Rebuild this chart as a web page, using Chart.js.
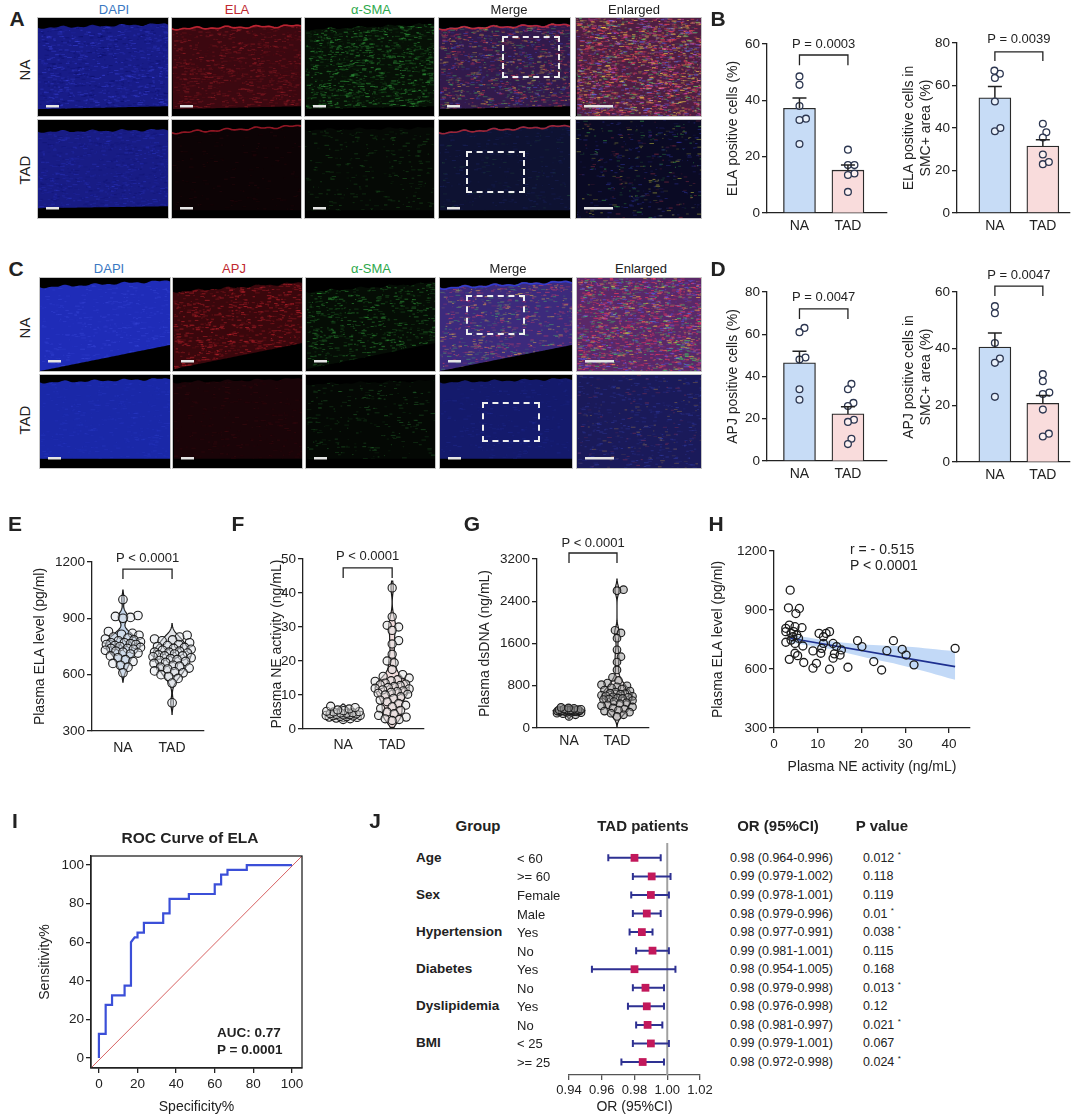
<!DOCTYPE html>
<html>
<head>
<meta charset="utf-8">
<title>ELA / APJ figure</title>
<script src="https://cdn.jsdelivr.net/npm/chart.js@4.4.1/dist/chart.umd.min.js"></script>
<style>
  body { margin: 0; background: #fff; }
  #page { position: relative; width: 1080px; height: 1120px; overflow: hidden; font-family: 'Liberation Sans', Arial, sans-serif; color: #222; }
  #page canvas { position: absolute; }
  .t { position: absolute; white-space: nowrap; line-height: 1; }
  .mid { transform: translate(-50%, -50%); }
  .left { transform: translateY(-50%); }
  .rot { transform: translate(-50%, -50%) rotate(-90deg); }
  .letter { font-weight: bold; font-size: 21px; }
  .micro { border: 1px solid #c4c4c4; box-sizing: border-box; }
  .dash { position: absolute; border: 2px dashed #eee; box-sizing: border-box; }
</style>
</head>
<body>
<div id="page">
  <canvas id="b1" width="180" height="212" style="left:712px;top:28px"></canvas>
  <canvas id="b2" width="180" height="212" style="left:895px;top:28px"></canvas>
  <canvas id="d1" width="180" height="212" style="left:712px;top:276px"></canvas>
  <canvas id="d2" width="180" height="226" style="left:895px;top:262px"></canvas>
  <canvas id="e" width="195" height="230" style="left:20px;top:530px"></canvas>
  <canvas id="f" width="195" height="230" style="left:240px;top:530px"></canvas>
  <canvas id="g" width="205" height="235" style="left:450px;top:525px"></canvas>
  <canvas id="h" width="285" height="252" style="left:695px;top:528px"></canvas>
  <canvas id="roc" width="320" height="275" style="left:0px;top:845px"></canvas>
  <canvas id="forest" width="180" height="290" style="left:540px;top:830px"></canvas>
</div>
<script>
// ---------- data ----------
const groups = ['NA', 'TAD'];

// B  ELA positive cells
const elaCellNA = [48.5, 45.5, 38, 33.5, 33, 24.5];
const elaCellTAD = [22.5, 17, 17, 14, 13.5, 7.5];
const elaCellMean = [37.2, 15.2];
const elaCellSem = [3.6, 1.8];
const elaSmcNA = [65.5, 67, 63.5, 52.5, 38.5, 40];
const elaSmcTAD = [42, 38, 35.5, 27.5, 23, 24];
const elaSmcMean = [54.2, 31.5];
const elaSmcSem = [5.3, 3.0];

// D  APJ positive cells
const apjCellNA = [63, 61, 49, 48, 34, 29];
const apjCellTAD = [36.5, 34, 27.5, 26, 19.5, 18.5, 10.5, 8];
const apjCellMean = [46.5, 22.3];
const apjCellSem = [5.5, 3.4];
const apjSmcNA = [55, 52.5, 42, 36.5, 35, 23];
const apjSmcTAD = [31, 28.5, 24.5, 24, 18.5, 10, 9];
const apjSmcMean = [40.6, 20.7];
const apjSmcSem = [4.9, 2.8];

// E  plasma ELA (pg/ml)
const plasmaElaNA = [1000, 915, 910, 905, 900, 830, 820, 815, 810, 800, 795, 790, 785, 780, 775, 770, 770, 765, 760, 760,
  755, 750, 745, 740, 740, 735, 730, 725, 720, 715, 710, 700, 690, 680, 670, 660, 650, 640, 610];
const plasmaElaTAD = [810, 800, 790, 785, 780, 770, 760, 755, 750, 745, 740, 735, 730, 725, 720, 720, 715, 710, 705, 700,
  700, 695, 690, 685, 680, 675, 670, 665, 660, 650, 645, 640, 635, 630, 620, 615, 610, 600, 590, 580, 555, 450];

// F  plasma NE activity (ng/mL)
const neNA = [2.8, 3.0, 3.2, 3.4, 3.5, 3.6, 3.7, 3.8, 3.9, 4.0, 4.0, 4.1, 4.2, 4.3, 4.4, 4.5, 4.6, 4.7, 4.8, 5.0,
  5.1, 5.2, 5.4, 5.6, 5.9, 6.3, 6.7];
const neTAD = [41.5, 33, 30.5, 30, 29, 26, 25, 22, 20, 19.5, 17.5, 16, 15.5, 15, 14.5, 14.2, 14, 13.5, 13.2, 13,
  12.8, 12.5, 12.2, 12, 11.8, 11.5, 11.2, 11, 10.8, 10.5, 10.2, 10, 9.5, 9, 8.5, 8, 7.5, 7, 6.5, 6,
  5.5, 5, 4.5, 4, 3.5, 3, 2.8, 2.5];

// G  plasma dsDNA (ng/mL)
const dsdnaNA = [220, 250, 270, 280, 290, 300, 300, 305, 310, 310, 315, 320, 320, 325, 330, 330, 335, 340, 340, 345,
  350, 355, 360, 370, 380, 390];
const dsdnaTAD = [2620, 2600, 1850, 1800, 1700, 1480, 1350, 1250, 1100, 960, 900, 850, 820, 800, 780, 760, 740, 720, 700, 680,
  660, 650, 640, 620, 610, 600, 590, 580, 570, 560, 550, 540, 520, 500, 480, 460, 440, 420, 400, 380,
  360, 340, 320, 300, 280, 250, 220];

// H  correlation NE activity vs ELA
const corrNE = [3.7, 3.3, 5.8, 5.0, 3.5, 6.4, 4.8, 2.7, 2.7, 3.9, 4.5, 5.2, 4.3, 2.7, 3.9, 4.8, 5.6, 6.6, 4.8, 3.5,
  5.4, 6.8, 10.3, 11.9, 12.7, 11.3, 11.3, 8.9, 9.7, 8.9, 10.7, 10.9, 12.7, 13.5, 14.3, 13.8, 13.5, 15.1, 15.4, 16.9,
  19.1, 20.1, 22.8, 24.6, 25.8, 27.3, 29.3, 30.2, 32.0, 41.4];
const corrELA = [1001, 911, 908, 882, 823, 810, 815, 807, 790, 781, 790, 773, 764, 736, 747, 730, 756, 717, 680, 649,
  668, 633, 781, 781, 790, 764, 730, 692, 629, 604, 680, 705, 599, 730, 714, 677, 655, 671, 697, 609,
  744, 714, 638, 595, 693, 744, 700, 671, 621, 705];
const fitNE = [3.7, 41.4];
const fitELA = [756, 612];
const bandNE = [3.7, 12, 20, 30, 41.4];
const bandHi = [775, 745, 726, 714, 690];
const bandLo = [735, 705, 663, 614, 545];

// I  ROC curve of ELA
const rocSpec = [0, 0, 3.5, 3.5, 6.8, 6.8, 13.3, 13.3, 16.6, 16.6, 18.5, 20, 20, 23.3, 23.3, 33.3, 33.3, 36.6, 36.6,
  46.6, 46.6, 60, 60, 63.3, 63.3, 66.6, 66.6, 76.6, 76.6, 100];
const rocSens = [0, 12.5, 12.5, 27.5, 27.5, 32.5, 32.5, 37.5, 37.5, 60, 62.5, 62.5, 65, 65, 70, 70, 75, 75, 82.5,
  82.5, 85, 85, 90, 90, 95, 95, 97.5, 97.5, 100, 100];

// J  subgroup odds ratios
const groupNames = ['Age', '', 'Sex', '', 'Hypertension', '', 'Diabetes', '', 'Dyslipidemia', '', 'BMI', ''];
const subNames = ['< 60', '>= 60', 'Female', 'Male', 'Yes', 'No', 'Yes', 'No', 'Yes', 'No', '< 25', '>= 25'];
const orEst = [0.980, 0.9905, 0.990, 0.9875, 0.9845, 0.991, 0.980, 0.9867, 0.9875, 0.988, 0.990, 0.985];
const ciLow = [0.964, 0.979, 0.978, 0.979, 0.977, 0.981, 0.954, 0.979, 0.976, 0.981, 0.979, 0.972];
const ciHigh = [0.996, 1.002, 1.001, 0.996, 0.991, 1.001, 1.005, 0.998, 0.998, 0.997, 1.001, 0.998];
const orText = ['0.98 (0.964-0.996)', '0.99 (0.979-1.002)', '0.99 (0.978-1.001)', '0.98 (0.979-0.996)',
  '0.98 (0.977-0.991)', '0.99 (0.981-1.001)', '0.98 (0.954-1.005)', '0.98 (0.979-0.998)',
  '0.98 (0.976-0.998)', '0.98 (0.981-0.997)', '0.99 (0.979-1.001)', '0.98 (0.972-0.998)'];
const pText = ['0.012', '0.118', '0.119', '0.01', '0.038', '0.115', '0.168', '0.013', '0.12', '0.021', '0.067', '0.024'];
const pStar = [1, 0, 0, 1, 1, 0, 0, 1, 0, 1, 0, 1];

// ---------- setup ----------
const FONT = "'Liberation Sans', Arial, sans-serif";
const INK = '#222';
Chart.defaults.font.family = FONT;
Chart.defaults.color = INK;
Chart.defaults.animation = false;
Chart.defaults.plugins.legend.display = false;
Chart.defaults.plugins.tooltip.enabled = false;

const page = document.getElementById('page');

function txt(s, x, y, cls, style, html) {
  const d = document.createElement('div');
  d.className = 't ' + cls;
  d.style.left = x + 'px';
  d.style.top = y + 'px';
  if (style) d.style.cssText += style;
  if (html) d.innerHTML = s; else d.textContent = s;
  page.appendChild(d);
}

function ticksAt(vals) {
  return s => { s.ticks = vals.map(v => ({ value: v })); };
}

function yAxis(o) {
  return {
    type: 'linear', min: o.min, max: o.max, reverse: !!o.reverse, display: o.display !== false, offset: false,
    afterBuildTicks: ticksAt(o.ticks || []),
    afterFit: s => { s.width = o.width; },
    border: { display: true, color: INK, width: 1.3 },
    grid: { display: true, offset: false, drawOnChartArea: false, drawTicks: true, tickLength: 5, color: INK, lineWidth: 1.3 },
    ticks: { font: { size: 13.5 }, color: INK, padding: 2, autoSkip: false, callback: v => String(v) },
    title: { display: !!o.title, text: o.title, font: { size: 14 }, color: INK, padding: { top: 4, bottom: 4 } }
  };
}

function xAxis(o) {
  return {
    type: 'linear', min: o.min, max: o.max, offset: false,
    afterBuildTicks: ticksAt(o.ticks),
    afterFit: s => { s.height = o.height; },
    border: { display: true, color: o.color || INK, width: 1.3 },
    grid: { display: true, offset: false, drawOnChartArea: false, drawTicks: !!o.marks, tickLength: o.marks ? 5 : 0, color: o.color || INK, lineWidth: 1.3 },
    ticks: {
      font: { size: o.size || 13.5 }, color: INK, padding: o.pad ?? 4, autoSkip: false, maxRotation: 0,
      callback: o.labels ? (v => o.labels[v]) : (o.fmt || (v => String(v)))
    },
    title: { display: !!o.title, text: o.title, font: { size: 14 }, color: INK, padding: { top: 2, bottom: 4 } }
  };
}

// spread points of one dataset sideways so they do not sit on each other
function swarm(chart, di, center, gap, maxHalf) {
  const xs = chart.scales.x, ys = chart.scales.y;
  const pts = chart.data.datasets[di].data;
  const cx = xs.getPixelForValue(center);
  const order = pts.map((p, i) => i).sort((a, b) => pts[a].y - pts[b].y);
  const placed = [];
  order.forEach(i => {
    const py = ys.getPixelForValue(pts[i].y);
    let best = cx, bestD = -1;
    for (let k = 0; ; k++) {
      const off = Math.ceil(k / 2) * 0.5 * (k % 2 ? 1 : -1);
      if (Math.abs(off) > maxHalf) break;
      const px = cx + off;
      let dmin = Infinity;
      placed.forEach(q => { dmin = Math.min(dmin, Math.hypot(q[0] - px, q[1] - py)); });
      if (dmin >= gap) { best = px; bestD = dmin; break; }
      if (dmin > bestD) { bestD = dmin; best = px; }
    }
    placed.push([best, py]);
    pts[i].x = xs.getValueForPixel(best);
  });
  chart.update('none');
}

function sigPlugin(s) {
  return {
    id: 'sig',
    afterDatasetsDraw(chart) {
      const { ctx } = chart, xs = chart.scales.x, ys = chart.scales.y;
      const x0 = xs.getPixelForValue(0), x1 = xs.getPixelForValue(1);
      const yt = ys.getPixelForValue(s.top), yl = ys.getPixelForValue(s.leg);
      ctx.save();
      ctx.strokeStyle = INK; ctx.lineWidth = 1.3;
      ctx.beginPath(); ctx.moveTo(x0, yl); ctx.lineTo(x0, yt); ctx.lineTo(x1, yt); ctx.lineTo(x1, yl); ctx.stroke();
      ctx.fillStyle = INK; ctx.font = '13px ' + FONT; ctx.textAlign = 'center'; ctx.textBaseline = 'middle';
      ctx.fillText(s.text, (x0 + x1) / 2, ys.getPixelForValue(s.textY));
      ctx.restore();
    }
  };
}

function errPlugin(mean, sem) {
  return {
    id: 'err',
    afterDatasetsDraw(chart) {
      const { ctx } = chart, xs = chart.scales.x, ys = chart.scales.y;
      ctx.save(); ctx.strokeStyle = INK; ctx.lineWidth = 1.5;
      mean.forEach((m, i) => {
        const x = xs.getPixelForValue(i), y0 = ys.getPixelForValue(m), y1 = ys.getPixelForValue(m + sem[i]);
        ctx.beginPath(); ctx.moveTo(x, y0); ctx.lineTo(x, y1); ctx.moveTo(x - 7, y1); ctx.lineTo(x + 7, y1); ctx.stroke();
      });
      ctx.restore();
    }
  };
}

function violinPlugin(vs) {
  return {
    id: 'violin',
    beforeDatasetsDraw(chart) {
      const { ctx } = chart, xs = chart.scales.x, ys = chart.scales.y;
      vs.forEach(g => {
        const lo = Math.min(...g.values) - g.ext, hi = Math.max(...g.values) + g.ext;
        const n = 160, dens = [];
        let dmax = 0;
        for (let i = 0; i <= n; i++) {
          const y = lo + (hi - lo) * i / n;
          let d = 0;
          g.values.forEach(v => { const z = (y - v) / g.bw; d += Math.exp(-0.5 * z * z); });
          dens.push([y, d]); dmax = Math.max(dmax, d);
        }
        const cx = xs.getPixelForValue(g.center);
        ctx.save(); ctx.beginPath();
        dens.forEach(([y, d], i) => {
          const px = cx + g.half * d / dmax, py = ys.getPixelForValue(y);
          if (i) ctx.lineTo(px, py); else ctx.moveTo(px, py);
        });
        for (let i = dens.length - 1; i >= 0; i--) {
          ctx.lineTo(cx - g.half * dens[i][1] / dmax, ys.getPixelForValue(dens[i][0]));
        }
        ctx.closePath();
        ctx.fillStyle = g.fill; ctx.fill();
        ctx.strokeStyle = '#1a1a1a'; ctx.lineWidth = 1.2; ctx.stroke();
        ctx.restore();
      });
    }
  };
}

// ---------- bar charts (B, D) ----------
function barChart(id, c) {
  const pt = { type: 'scatter', pointRadius: 3.4, pointBackgroundColor: 'rgba(255,255,255,0.6)', pointBorderColor: '#2c3650', pointBorderWidth: 1.3, order: 1, clip: false };
  const chart = new Chart(document.getElementById(id), {
    type: 'bar',
    data: {
      datasets: [
        { type: 'bar', data: c.mean.map((m, i) => ({ x: i, y: m })), backgroundColor: ['#c7dcf6', '#f9dcdc'], borderColor: '#2a2a2a', borderWidth: 1.3, barThickness: 32, order: 3 },
        { ...pt, data: c.na.map(v => ({ x: 0, y: v })) },
        { ...pt, data: c.tad.map(v => ({ x: 1, y: v })) }
      ]
    },
    options: {
      responsive: false,
      layout: { padding: c.pad },
      scales: {
        x: xAxis({ min: c.xmin, max: c.xmax, ticks: [0, 1], labels: groups, height: c.xh, pad: 5, size: 14 }),
        y: yAxis({ min: 0, max: c.ymax, ticks: c.yticks, width: c.yw, title: c.title })
      }
    },
    plugins: [errPlugin(c.mean, c.sem), sigPlugin(c.sig)]
  });
  swarm(chart, 1, 0, 6.2, 13);
  swarm(chart, 2, 1, 6.2, 13);
  return chart;
}

barChart('b1', {
  mean: elaCellMean, sem: elaCellSem, na: elaCellNA, tad: elaCellTAD,
  pad: { left: 8.6, top: 16, right: 5, bottom: 0 }, yw: 46.4, xh: 27, xmin: -0.67, xmax: 1.8,
  ymax: 60, yticks: [0, 20, 40, 60], title: 'ELA positive cells (%)',
  sig: { text: 'P = 0.0003', textY: 60, top: 56.1, leg: 52.5 }
});
barChart('b2', {
  mean: elaSmcMean, sem: elaSmcSem, na: elaSmcNA, tad: elaSmcTAD,
  pad: { left: 2.2, top: 15, right: 5, bottom: 0 }, yw: 59.8, xh: 27, xmin: -0.79, xmax: 1.56,
  ymax: 80, yticks: [0, 20, 40, 60, 80], title: ['ELA positive cells in', 'SMC+ area (%)'],
  sig: { text: 'P = 0.0039', textY: 81.9, top: 75.8, leg: 71.5 }
});
barChart('d1', {
  mean: apjCellMean, sem: apjCellSem, na: apjCellNA, tad: apjCellTAD,
  pad: { left: 8.6, top: 16, right: 5, bottom: 0 }, yw: 46.4, xh: 27, xmin: -0.67, xmax: 1.8,
  ymax: 80, yticks: [0, 20, 40, 60, 80], title: 'APJ positive cells (%)',
  sig: { text: 'P = 0.0047', textY: 77.6, top: 72.0, leg: 67.2 }
});
barChart('d2', {
  mean: apjSmcMean, sem: apjSmcSem, na: apjSmcNA, tad: apjSmcTAD,
  pad: { left: 2.2, top: 30, right: 5, bottom: 0 }, yw: 59.8, xh: 26, xmin: -0.79, xmax: 1.56,
  ymax: 60, yticks: [0, 20, 40, 60], title: ['APJ positive cells in', 'SMC+ area (%)'],
  sig: { text: 'P = 0.0047', textY: 66.0, top: 62.1, leg: 58.6 }
});

// ---------- violin charts (E, F, G) ----------
function violinChart(id, c) {
  const pt = { pointRadius: c.r, pointBackgroundColor: c.pfill, pointBorderColor: '#1b1b1b', pointBorderWidth: 1.1, clip: false };
  const chart = new Chart(document.getElementById(id), {
    type: 'scatter',
    data: {
      datasets: [
        { ...pt, data: c.na.map(v => ({ x: 0, y: v })) },
        { ...pt, data: c.tad.map(v => ({ x: 1, y: v })) }
      ]
    },
    options: {
      responsive: false,
      layout: { padding: c.pad },
      scales: {
        x: xAxis({ min: c.xmin, max: c.xmax, ticks: [0, 1], labels: groups, height: c.xh, pad: c.lpad, size: 14 }),
        y: yAxis({ min: c.ymin, max: c.ymax, ticks: c.yticks, width: c.yw, title: c.title })
      }
    },
    plugins: [violinPlugin([
      { center: 0, values: c.na, bw: c.bw[0], ext: c.ext[0], half: c.half[0], fill: c.fill[0] },
      { center: 1, values: c.tad, bw: c.bw[1], ext: c.ext[1], half: c.half[1], fill: c.fill[1] }
    ]), sigPlugin(c.sig)]
  });
  swarm(chart, 0, 0, c.r * 1.7, c.spread ? c.spread[0] : c.half[0]);
  swarm(chart, 1, 1, c.r * 1.7, c.spread ? c.spread[1] : c.half[1]);
  return chart;
}

violinChart('e', {
  na: plasmaElaNA, tad: plasmaElaTAD, r: 4.3, pfill: 'rgba(225,228,235,0.45)',
  pad: { left: 7.6, top: 32, right: 11, bottom: 0 }, yw: 64.4, xh: 29, lpad: 9, xmin: -0.63, xmax: 1.65,
  ymin: 300, ymax: 1200, yticks: [300, 600, 900, 1200], title: 'Plasma ELA level (pg/ml)',
  bw: [24, 26], ext: [50, 62], half: [17.5, 19], fill: ['#c4d5ea', '#e3e5e9'],
  sig: { text: 'P < 0.0001', textY: 1221, top: 1162, leg: 1110 }
});
violinChart('f', {
  na: neNA, tad: neTAD, r: 4.1, pfill: 'rgba(225,225,225,0.5)',
  pad: { left: 24.6, top: 29, right: 11, bottom: 0 }, yw: 38.4, xh: 31, lpad: 8, xmin: -0.82, xmax: 1.65,
  ymin: 0, ymax: 50, yticks: [0, 10, 20, 30, 40, 50], title: 'Plasma NE activity (ng/mL)',
  bw: [0.45, 1.7], ext: [0.6, 2.0], half: [17, 17], fill: ['#e8eaee', '#f2dddd'],
  sig: { text: 'P < 0.0001', textY: 50.9, top: 47.4, leg: 44.4 }
});
violinChart('g', {
  na: dsdnaNA, tad: dsdnaTAD, r: 3.8, pfill: 'rgba(150,150,150,0.5)', spread: [12, 15.5],
  pad: { left: 22.6, top: 34, right: 6, bottom: 0 }, yw: 64.4, xh: 32, lpad: 5, xmin: -0.667, xmax: 1.667,
  ymin: 0, ymax: 3200, yticks: [0, 800, 1600, 2400, 3200], title: 'Plasma dsDNA (ng/mL)',
  bw: [30, 85], ext: [50, 200], half: [16, 15.5], fill: ['#eeeeee', '#f6eeee'],
  sig: { text: 'P < 0.0001', textY: 3503, top: 3314, leg: 3125 }
});

// ---------- H: correlation ----------
new Chart(document.getElementById('h'), {
  type: 'scatter',
  data: {
    datasets: [
      { type: 'line', data: bandNE.map((x, i) => ({ x, y: bandHi[i] })), borderWidth: 0, pointRadius: 0, fill: '+1', backgroundColor: 'rgba(110,165,235,0.42)', tension: 0.4, order: 3 },
      { type: 'line', data: bandNE.map((x, i) => ({ x, y: bandLo[i] })), borderWidth: 0, pointRadius: 0, fill: false, tension: 0.4, order: 3 },
      { type: 'line', data: fitNE.map((x, i) => ({ x, y: fitELA[i] })), borderColor: '#1d2f8f', borderWidth: 1.6, pointRadius: 0, order: 2 },
      { data: corrNE.map((x, i) => ({ x, y: corrELA[i] })), pointRadius: 4, pointBorderColor: '#1a1a1a', pointBorderWidth: 1.3, pointBackgroundColor: 'rgba(255,255,255,0)', order: 1, clip: false }
    ]
  },
  options: {
    responsive: false,
    layout: { padding: { left: 10.6, top: 23, right: 10, bottom: 0 } },
    scales: {
      x: xAxis({ min: 0, max: 44.8, ticks: [0, 10, 20, 30, 40], height: 52, marks: true, pad: 3, title: 'Plasma NE activity (ng/mL)' }),
      y: yAxis({ min: 300, max: 1200, ticks: [300, 600, 900, 1200], width: 68.4, title: 'Plasma ELA level (pg/ml)' })
    }
  }
});

// ---------- I: ROC ----------
new Chart(document.getElementById('roc'), {
  type: 'scatter',
  data: {
    datasets: [
      { data: rocSpec.map((x, i) => ({ x, y: rocSens[i] })), showLine: true, borderColor: '#3b4fd8', borderWidth: 2.2, pointRadius: 0, order: 1 },
      { data: [{ x: -4.1, y: -5.2 }, { x: 105.2, y: 104.7 }], showLine: true, borderColor: '#d25050', borderWidth: 0.9, pointRadius: 0, order: 2 }
    ]
  },
  options: {
    responsive: false,
    layout: { padding: { left: 32.6, top: 11, right: 18, bottom: 0 } },
    scales: {
      x: xAxis({ min: -4.1, max: 105.2, ticks: [0, 20, 40, 60, 80, 100], height: 52, marks: true, pad: 3, title: 'Specificity%' }),
      y: yAxis({ min: -5.2, max: 104.7, ticks: [0, 20, 40, 60, 80, 100], width: 58.4, title: 'Sensitivity%' })
    }
  },
  plugins: [{
    id: 'box',
    afterDraw(chart) {
      const a = chart.chartArea, ctx = chart.ctx;
      ctx.save(); ctx.strokeStyle = INK; ctx.lineWidth = 1.3;
      ctx.strokeRect(a.left, a.top, a.right - a.left, a.bottom - a.top);
      ctx.restore();
    }
  }]
});

// ---------- J: forest plot ----------
const forest = new Chart(document.getElementById('forest'), {
  type: 'scatter',
  data: {
    datasets: [
      { data: orEst.map((x, i) => ({ x, y: i })), pointStyle: 'rect', pointRadius: 5.5, pointBackgroundColor: '#c2185b', pointBorderColor: '#c2185b', pointBorderWidth: 0, clip: false }
    ]
  },
  options: {
    responsive: false,
    layout: { padding: { left: 29, top: 13, right: 20, bottom: 0 } },
    scales: {
      x: xAxis({ min: 0.94, max: 1.02, ticks: [0.94, 0.96, 0.98, 1.00, 1.02], height: 45, marks: true, pad: 3, size: 13, color: '#555',
        fmt: v => v.toFixed(2), title: 'OR (95%CI)' }),
      y: yAxis({ min: -0.8, max: 11.7, reverse: true, display: false, width: 0 })
    }
  },
  plugins: [{
    id: 'whiskers',
    beforeDatasetsDraw(chart) {
      const { ctx } = chart, xs = chart.scales.x, ys = chart.scales.y, a = chart.chartArea;
      ctx.save();
      ctx.strokeStyle = '#a0a0a0'; ctx.lineWidth = 2;
      const x1 = xs.getPixelForValue(1);
      ctx.beginPath(); ctx.moveTo(x1, a.top); ctx.lineTo(x1, a.bottom); ctx.stroke();
      ctx.strokeStyle = '#2e3192'; ctx.lineWidth = 2;
      ciLow.forEach((lo, i) => {
        const y = ys.getPixelForValue(i), xa = xs.getPixelForValue(lo), xb = xs.getPixelForValue(ciHigh[i]);
        ctx.beginPath();
        ctx.moveTo(xa, y); ctx.lineTo(xb, y);
        ctx.moveTo(xa, y - 3.5); ctx.lineTo(xa, y + 3.5);
        ctx.moveTo(xb, y - 3.5); ctx.lineTo(xb, y + 3.5);
        ctx.stroke();
      });
      ctx.restore();
    }
  }]
});

const fy = forest.scales.y;
const rowY = i => 830 + fy.getPixelForValue(i);
groupNames.forEach((g, i) => { if (g) txt(g, 416, rowY(i), 'left', 'font-weight:bold;font-size:13.5px;'); });
subNames.forEach((s, i) => txt(s, 517, rowY(i), 'left', 'font-size:13px;'));
orText.forEach((s, i) => txt(s, 730, rowY(i), 'left', 'font-size:12.5px;'));
pText.forEach((s, i) => txt(s + (pStar[i] ? ' <sup style="font-size:8px">*</sup>' : ''), 863, rowY(i), 'left', 'font-size:12.5px;', true));
txt('Group', 478, 825, 'mid', 'font-weight:bold;font-size:15px;');
txt('TAD patients', 643, 825, 'mid', 'font-weight:bold;font-size:15px;');
txt('OR (95%CI)', 778, 825, 'mid', 'font-weight:bold;font-size:15px;');
txt('P value', 882, 825, 'mid', 'font-weight:bold;font-size:15px;');

// ---------- other text ----------
txt('ROC Curve of ELA', 190, 838, 'mid', 'font-weight:bold;font-size:15.5px;');
txt('AUC: 0.77', 217, 1033, 'left', 'font-weight:bold;font-size:13.5px;');
txt('P = 0.0001', 217, 1050, 'left', 'font-weight:bold;font-size:13.5px;');
txt('r = - 0.515', 850, 549, 'left', 'font-size:14px;');
txt('P < 0.0001', 850, 565, 'left', 'font-size:14px;');

[['A', 17, 18], ['B', 718, 18], ['C', 16, 268], ['D', 718, 268], ['E', 15, 523], ['F', 238, 523],
 ['G', 472, 523], ['H', 716, 523], ['I', 15, 820], ['J', 375, 820]].forEach(([s, x, y]) => txt(s, x, y, 'mid letter'));

// ---------- microscopy panels (A, C) ----------
function hash(n) { const s = Math.sin(n * 12.9898 + 78.233) * 43758.5453; return s - Math.floor(s); }

function micro(x, y, w, h, spec, bar) {
  const cv = document.createElement('canvas');
  cv.width = w; cv.height = h; cv.className = 'micro';
  cv.style.left = x + 'px'; cv.style.top = y + 'px';
  page.appendChild(cv);
  const c = cv.getContext('2d');
  c.fillStyle = '#000'; c.fillRect(0, 0, w, h);
  const [t0, t1] = spec.top || [0, 0], [b0, b1] = spec.bot || [1, 1];
  const topY = px => h * (t0 + (t1 - t0) * px / w) + (spec.top ? 0.8 * Math.sin(px / 5) + 0.6 * Math.sin(px / 2.3) : 0);
  const botY = px => h * (b0 + (b1 - b0) * px / w);
  c.beginPath();
  for (let px = 0; px <= w; px += 1) c.lineTo(px, topY(px));
  for (let px = w; px >= 0; px -= 2) c.lineTo(px, botY(px));
  c.closePath();
  c.fillStyle = spec.base; c.fill();
  c.save(); c.clip();
  let k = spec.seed;
  const gain = spec.gain || 0.6;
  spec.streaks.forEach(([col, n, a]) => {
    c.fillStyle = col;
    for (let i = 0; i < n * 1.4; i++) {
      k++;
      c.globalAlpha = Math.min(1, gain * a * (0.25 + 0.75 * hash(k + 0.93)));
      c.fillRect(hash(k) * w, hash(k + 0.37) * h, 1 + hash(k + 0.71) * 4, 1);
    }
  });
  c.restore();
  c.globalAlpha = 1;
  if (spec.edge) {
    c.globalAlpha = 0.8;
    c.strokeStyle = spec.edge; c.lineWidth = 1.6; c.beginPath();
    for (let px = 0; px <= w; px += 1) c.lineTo(px, topY(px) + 1);
    c.stroke();
    c.globalAlpha = 1;
  }
  c.fillStyle = '#e6e6e6';
  c.fillRect(8, h - 11, bar, 2.5);
}

function dash(x, y, w, h) {
  const d = document.createElement('div');
  d.className = 'dash';
  d.style.cssText += `left:${x}px;top:${y}px;width:${w}px;height:${h}px;`;
  page.appendChild(d);
}

const colsA = [[37, 130], [171, 129], [304, 129], [438, 131], [575, 125]];
const colsC = [[39, 130], [172, 129], [305, 129], [439, 132], [576, 124]];

const specA = [
  [
    { base: '#181c88', top: [0.1, 0.06], bot: [0.93, 0.9], seed: 10, gain: 0.75, streaks: [['#4a55ff', 500, 0.5], ['#0a0c60', 300, 0.6]] },
    { base: '#3c0810', top: [0.1, 0.07], bot: [0.93, 0.9], seed: 1100, edge: '#d82a38', streaks: [['#e0303a', 550, 0.6], ['#701018', 200, 0.5]] },
    { base: '#061006', top: [0.12, 0.06], bot: [0.93, 0.9], seed: 2200, gain: 0.75, streaks: [['#40d050', 650, 0.65], ['#1a6020', 300, 0.5]] },
    { base: '#321a4c', top: [0.1, 0.06], bot: [0.93, 0.9], seed: 3300, gain: 0.85, edge: '#d82a38', streaks: [['#ff4050', 320, 0.6], ['#50e060', 200, 0.5], ['#ffd040', 220, 0.6], ['#5060ff', 220, 0.5]] },
    { base: '#4e1e42', seed: 4400, gain: 1.0, streaks: [['#ff4a5a', 550, 0.7], ['#ffd84a', 320, 0.7], ['#50e070', 200, 0.6], ['#6a70ff', 300, 0.6], ['#ff50d0', 200, 0.5]] }
  ],
  [
    { base: '#181c85', top: [0.12, 0.1], bot: [0.9, 0.88], seed: 5500, streaks: [['#3a48f0', 450, 0.5], ['#0a0c60', 250, 0.5]] },
    { base: '#0c0305', top: [0.12, 0.05], bot: [0.92, 0.92], seed: 6600, edge: '#b01c2a', streaks: [['#601018', 120, 0.4]] },
    { base: '#050905', top: [0.1, 0.08], bot: [0.92, 0.92], seed: 7700, streaks: [['#38b040', 220, 0.5]] },
    { base: '#0e1232', top: [0.12, 0.05], bot: [0.92, 0.92], seed: 8800, edge: '#c02a3a', streaks: [['#3040b0', 200, 0.4], ['#40a050', 60, 0.4]] },
    { base: '#0a0a24', seed: 9900, gain: 0.9, streaks: [['#d0d040', 70, 0.6], ['#40c050', 60, 0.6], ['#d04050', 50, 0.5], ['#3a40c0', 150, 0.5]] }
  ]
];
const specC = [
  [
    { base: '#1f2cb8', top: [0.1, 0.03], bot: [1.0, 0.72], seed: 11000, streaks: [['#5a6aff', 350, 0.4]] },
    { base: '#3a070c', top: [0.15, 0.05], bot: [0.98, 0.7], seed: 12000, gain: 0.75, streaks: [['#e02a35', 650, 0.7]] },
    { base: '#050d05', top: [0.15, 0.05], bot: [0.98, 0.7], seed: 13000, gain: 0.75, streaks: [['#3cc048', 550, 0.6]] },
    { base: '#3c2a7c', top: [0.1, 0.03], bot: [1.0, 0.72], seed: 14000, gain: 0.85, edge: '#3040e0', streaks: [['#ff4a60', 300, 0.6], ['#ffd040', 150, 0.6], ['#50e060', 150, 0.5]] },
    { base: '#5a2868', seed: 15000, gain: 1.0, streaks: [['#ff3a60', 550, 0.7], ['#40e060', 250, 0.7], ['#ffd040', 200, 0.6], ['#5a60ff', 300, 0.6]] }
  ],
  [
    { base: '#1a28a8', top: [0.08, 0.04], bot: [0.9, 0.9], seed: 16000, streaks: [['#3a4ae0', 300, 0.4]] },
    { base: '#1a0408', top: [0.08, 0.04], bot: [0.9, 0.9], seed: 17000, streaks: [['#701018', 200, 0.4]] },
    { base: '#040804', top: [0.1, 0.06], bot: [0.9, 0.9], seed: 18000, streaks: [['#40c050', 200, 0.5]] },
    { base: '#141a6c', top: [0.08, 0.04], bot: [0.9, 0.9], seed: 19000, streaks: [['#3040c0', 200, 0.4]] },
    { base: '#1a1a5a', seed: 20000, gain: 0.8, streaks: [['#4050d0', 250, 0.5], ['#d0a040', 60, 0.5], ['#c04050', 50, 0.5]] }
  ]
];

[[17, 98], [119, 98]].forEach(([y, h], r) => colsA.forEach(([x, w], c) => micro(x, y, w, h, specA[r][c], c === 4 ? 29 : 13)));
[[277, 93], [374, 93]].forEach(([y, h], r) => colsC.forEach(([x, w], c) => micro(x, y, w, h, specC[r][c], c === 4 ? 29 : 13)));
dash(502, 36, 58, 42); dash(466, 151, 59, 42);
dash(466, 295, 59, 40); dash(482, 402, 58, 40);

const headA = [['DAPI', 114, '#3a78c2'], ['ELA', 237, '#c0282f'], ['α-SMA', 371, '#2ea84c'], ['Merge', 509, '#222'], ['Enlarged', 634, '#222']];
const headC = [['DAPI', 109, '#3a78c2'], ['APJ', 234, '#c0282f'], ['α-SMA', 371, '#2ea84c'], ['Merge', 508, '#222'], ['Enlarged', 641, '#222']];
headA.forEach(([s, x, col]) => txt(s, x, 9, 'mid', `font-size:13px;color:${col};`));
headC.forEach(([s, x, col]) => txt(s, x, 268, 'mid', `font-size:13px;color:${col};`));
[['NA', 70], ['TAD', 170], ['NA', 328], ['TAD', 420]].forEach(([s, y]) => txt(s, 24, y, 'rot', 'font-size:15px;'));
</script>
</body>
</html>
